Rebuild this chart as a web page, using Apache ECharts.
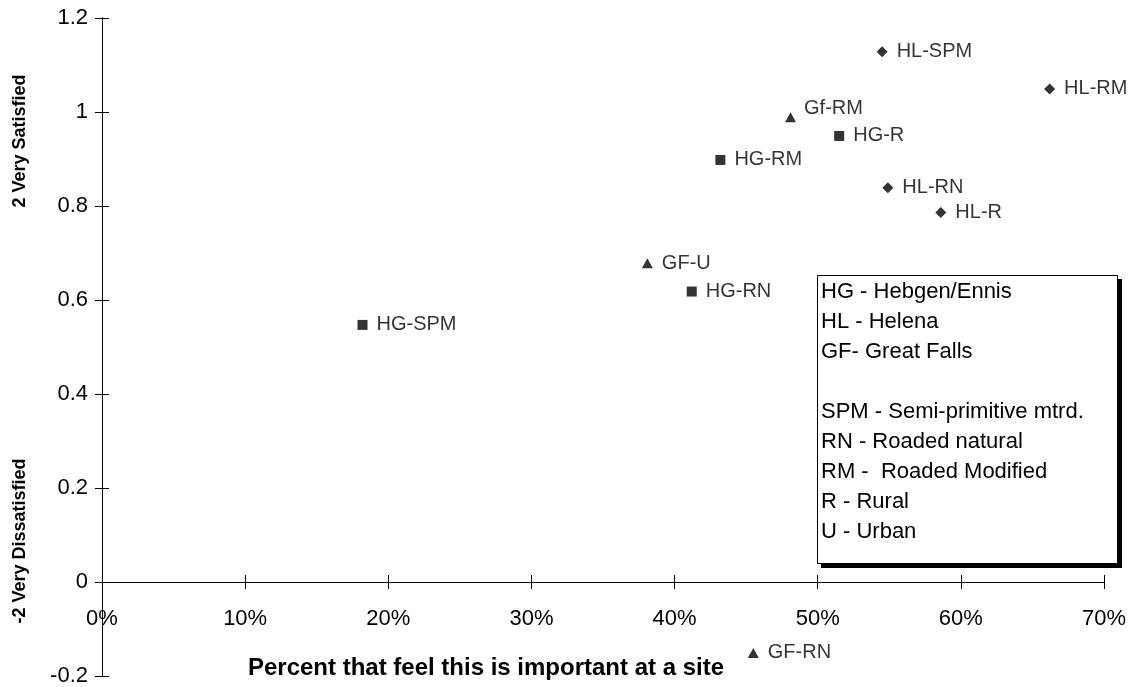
<!DOCTYPE html>
<html>
<head>
<meta charset="utf-8">
<script src="https://cdn.jsdelivr.net/npm/echarts@6/dist/echarts.min.js"></script>
<style>html,body{margin:0;padding:0;background:#fff}#c{width:1136px;height:687px}</style>
</head>
<body>
<div id="c"></div>
<script>
// ---- data (x = percent, y = satisfaction score) ----
const hgNames = ['HG-SPM', 'HG-RN', 'HG-RM', 'HG-R'];
const hgX = [18.2, 41.2, 43.2, 51.5];
const hgY = [0.547, 0.618, 0.898, 0.949];

const hlNames = ['HL-SPM', 'HL-RM', 'HL-RN', 'HL-R'];
const hlX = [54.5, 66.2, 54.9, 58.6];
const hlY = [1.128, 1.049, 0.839, 0.786];

const gfNames = ['GF-U', 'Gf-RM', 'GF-RN'];
const gfX = [38.1, 48.1, 45.5];
const gfY = [0.678, 0.989, -0.151];

const xTicks = [0, 10, 20, 30, 40, 50, 60, 70];
const yTicks = [-0.2, 0, 0.2, 0.4, 0.6, 0.8, 1, 1.2];

const legendLines = [
  'HG - Hebgen/Ennis',
  'HL - Helena',
  'GF- Great Falls',
  '',
  'SPM - Semi-primitive mtrd.',
  'RN - Roaded natural',
  'RM -  Roaded Modified',
  'R - Rural',
  'U - Urban'
];

const xTitle = 'Percent that feel this is important at a site';
const yTitleTop = '2 Very Satisfied';
const yTitleBottom = '-2 Very Dissatisfied';

function pts(names, xs, ys) {
  return names.map((n, i) => ({ name: n, value: [xs[i], ys[i]] }));
}

const FONT = 'Liberation Sans, Arial, sans-serif';
const GRID = { left: 102, right: 32, top: 18, bottom: 11 };
const H = 687;
const yMin = yTicks[0], yMax = yTicks[yTicks.length - 1];
const xMin = xTicks[0], xMax = xTicks[xTicks.length - 1];
// shift the x axis up so that it sits on y = 0
const gridH = H - GRID.top - GRID.bottom;
const xAxisOffset = -gridH * (0 - yMin) / (yMax - yMin);

const labelStyle = {
  show: true, position: 'right', distance: 9,
  formatter: p => p.name, color: '#000', fontSize: 20, fontFamily: FONT
};

const axisCommonX = {
  type: 'value', min: xMin, max: xMax, interval: 10,
  position: 'bottom', offset: xAxisOffset,
  splitLine: { show: false },
  axisLine: { show: true, onZero: false, lineStyle: { color: '#000', width: 1 } }
};
const axisCommonY = {
  type: 'value', min: yMin, max: yMax, interval: 0.2,
  position: 'left',
  splitLine: { show: false },
  axisLine: { show: true, onZero: false, lineStyle: { color: '#000', width: 1 } }
};

const BOX = { x: 817.5, y: 275.5, w: 300, h: 288, sh: 4 };

const chart = echarts.init(document.getElementById('c'), null, { renderer: 'canvas' });
chart.setOption({
  backgroundColor: '#fff',
  animation: false,
  grid: Object.assign({ containLabel: false, outerBoundsMode: 'none' }, GRID),
  xAxis: [
    Object.assign({}, axisCommonX, {
      axisTick: { show: true, length: 7, inside: false, lineStyle: { color: '#000' } },
      axisLabel: {
        margin: 26, color: '#000', fontSize: 22, fontFamily: FONT,
        formatter: v => (xTicks.indexOf(Math.round(v)) >= 0 ? Math.round(v) + '%' : '')
      }
    }),
    Object.assign({}, axisCommonX, {
      axisTick: { show: true, length: 7, inside: true, lineStyle: { color: '#000' } },
      axisLabel: { show: false }
    })
  ],
  yAxis: [
    Object.assign({}, axisCommonY, {
      axisTick: { show: true, length: 7, inside: false, lineStyle: { color: '#000' } },
      axisLabel: {
        margin: 14, color: '#000', fontSize: 22, fontFamily: FONT,
        formatter: v => {
          const r = Math.round(v * 10) / 10;
          return yTicks.indexOf(r) >= 0 ? String(r) : '';
        }
      }
    }),
    Object.assign({}, axisCommonY, {
      axisTick: { show: true, length: 7, inside: true, lineStyle: { color: '#000' } },
      axisLabel: { show: false }
    })
  ],
  series: [
    {
      type: 'scatter', name: 'HG', symbol: 'rect', symbolSize: 10,
      itemStyle: { color: '#000' }, label: labelStyle,
      data: pts(hgNames, hgX, hgY)
    },
    {
      type: 'scatter', name: 'HL', symbol: 'diamond', symbolSize: 11,
      itemStyle: { color: '#000' }, label: labelStyle,
      data: pts(hlNames, hlX, hlY)
    },
    {
      type: 'scatter', name: 'GF', symbol: 'triangle', symbolSize: [11, 10],
      itemStyle: { color: '#000' },
      label: labelStyle,
      data: pts(gfNames, gfX, gfY).map(d => d.name === 'Gf-RM'
        ? Object.assign(d, { label: { position: [19, -14] } }) : d)
    }
  ],
  graphic: [
    {
      type: 'text', x: 20, y: 141, rotation: Math.PI / 2,
      style: { text: yTitleTop, fill: '#000', font: 'bold 18px ' + FONT, textAlign: 'center', textVerticalAlign: 'middle' }
    },
    {
      type: 'text', x: 20, y: 541, rotation: Math.PI / 2,
      style: { text: yTitleBottom, fill: '#000', font: 'bold 18px ' + FONT, textAlign: 'center', textVerticalAlign: 'middle' }
    },
    {
      type: 'text', x: 486, y: 668,
      style: { text: xTitle, fill: '#000', font: 'bold 24px ' + FONT, textAlign: 'center', textVerticalAlign: 'middle' }
    },
    {
      type: 'rect', z: 9,
      shape: { x: BOX.x + BOX.sh - 0.5, y: BOX.y + BOX.sh - 0.5, width: BOX.w + 1, height: BOX.h + 1 },
      style: { fill: '#000' }
    },
    {
      type: 'rect', z: 10,
      shape: { x: BOX.x, y: BOX.y, width: BOX.w, height: BOX.h },
      style: { fill: '#fff', stroke: '#000', lineWidth: 1 }
    },
    {
      type: 'text', x: 821, y: 277, z: 11,
      style: { text: legendLines.join('\n'), fill: '#000', font: '22px ' + FONT, lineHeight: 30, textAlign: 'left', textVerticalAlign: 'top' }
    }
  ]
});
</script>
</body>
</html>
